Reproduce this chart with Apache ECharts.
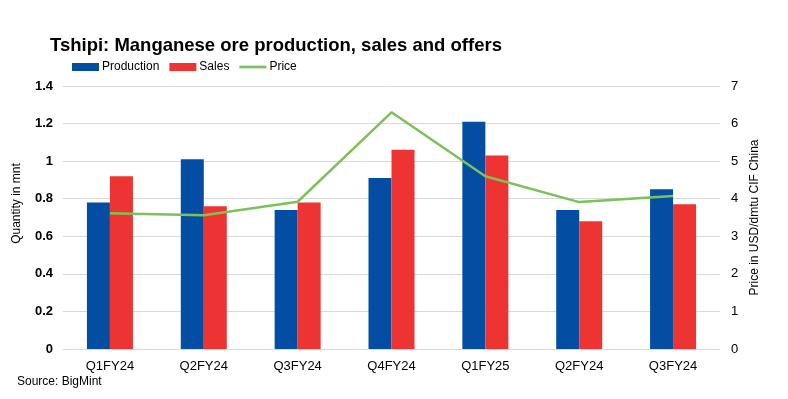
<!DOCTYPE html>
<html>
<head>
<meta charset="utf-8">
<script src="https://cdn.jsdelivr.net/npm/echarts@6/dist/echarts.min.js"></script>
<style>
html, body { margin: 0; padding: 0; background: #fff; }
#chart { width: 788px; height: 399px; }
</style>
</head>
<body>
<div id="chart"></div>
<script>
const quarters = ['Q1FY24', 'Q2FY24', 'Q3FY24', 'Q4FY24', 'Q1FY25', 'Q2FY24', 'Q3FY24'];
const production = [0.78, 1.01, 0.74, 0.91, 1.21, 0.74, 0.85];
const sales = [0.92, 0.76, 0.78, 1.06, 1.03, 0.68, 0.77];
const price = [3.61, 3.56, 3.92, 6.30, 4.60, 3.91, 4.07];

const font = '"Liberation Sans Narrow", "Liberation Sans", Arial, sans-serif';

let myChart = echarts.init(document.getElementById('chart'));
myChart.setOption({
    animation: false,
    backgroundColor: '#fff',
    title: {
        text: 'Tshipi: Manganese ore production, sales and offers',
        left: 45,
        top: 31,
        textStyle: {
            fontFamily: '"Liberation Sans", Arial, sans-serif',
            fontWeight: 'bold',
            fontSize: 18.5,
            color: '#000'
        }
    },
    legend: {
        left: 67,
        top: 56,
        itemWidth: 27,
        itemHeight: 8,
        itemGap: 10,
        textStyle: { fontFamily: font, fontSize: 12, color: '#000', padding: [0, 0, 0, -2] },
        data: [
            { name: 'Production', icon: 'rect' },
            { name: 'Sales', icon: 'rect' },
            { name: 'Price', icon: 'path://M0,0 L30,0 L30,3 L0,3 Z' }
        ]
    },
    grid: { left: 63, right: 68, top: 86, bottom: 50 },
    xAxis: {
        type: 'category',
        data: quarters,
        axisLine: { lineStyle: { color: '#d9d9d9' } },
        axisTick: { show: false },
        axisLabel: { fontFamily: font, fontSize: 13, color: '#000', margin: 11 }
    },
    yAxis: [
        {
            type: 'value',
            min: 0, max: 1.4, interval: 0.2,
            name: 'Quantity in mnt',
            nameLocation: 'middle',
            nameGap: 40,
            nameTextStyle: { fontFamily: font, fontSize: 12, color: '#000', padding: [0, 0, 0, 28] },
            axisLabel: {
                fontFamily: font, fontSize: 13, fontWeight: 'bold', color: '#000', margin: 10,
                formatter: function (v) { return String(Math.round(v * 10) / 10); }
            },
            splitLine: { lineStyle: { color: '#d9d9d9' } },
            axisLine: { show: false },
            axisTick: { show: false }
        },
        {
            type: 'value',
            min: 0, max: 7, interval: 1,
            name: 'Price in USD/dmtu CIF China',
            nameLocation: 'middle',
            nameGap: 24,
            nameTextStyle: { fontFamily: font, fontSize: 12, color: '#000' },
            axisLabel: { fontFamily: font, fontSize: 13, color: '#000', margin: 11 },
            splitLine: { show: false },
            axisLine: { show: false },
            axisTick: { show: false }
        }
    ],
    series: [
        {
            name: 'Production',
            type: 'bar',
            data: production,
            barWidth: 23,
            barGap: '0%',
            itemStyle: { color: '#034ea2' }
        },
        {
            name: 'Sales',
            type: 'bar',
            data: sales,
            barWidth: 23,
            itemStyle: { color: '#ee3433' }
        },
        {
            name: 'Price',
            type: 'line',
            yAxisIndex: 1,
            data: price,
            symbol: 'none',
            lineStyle: { color: '#7dc15a', width: 2.5 },
            itemStyle: { color: '#7dc15a' }
        }
    ],
    graphic: [
        {
            type: 'text',
            left: 17,
            top: 376,
            style: { text: 'Source: BigMint', font: '12px ' + font, fill: '#000' }
        }
    ]
});
</script>
</body>
</html>
